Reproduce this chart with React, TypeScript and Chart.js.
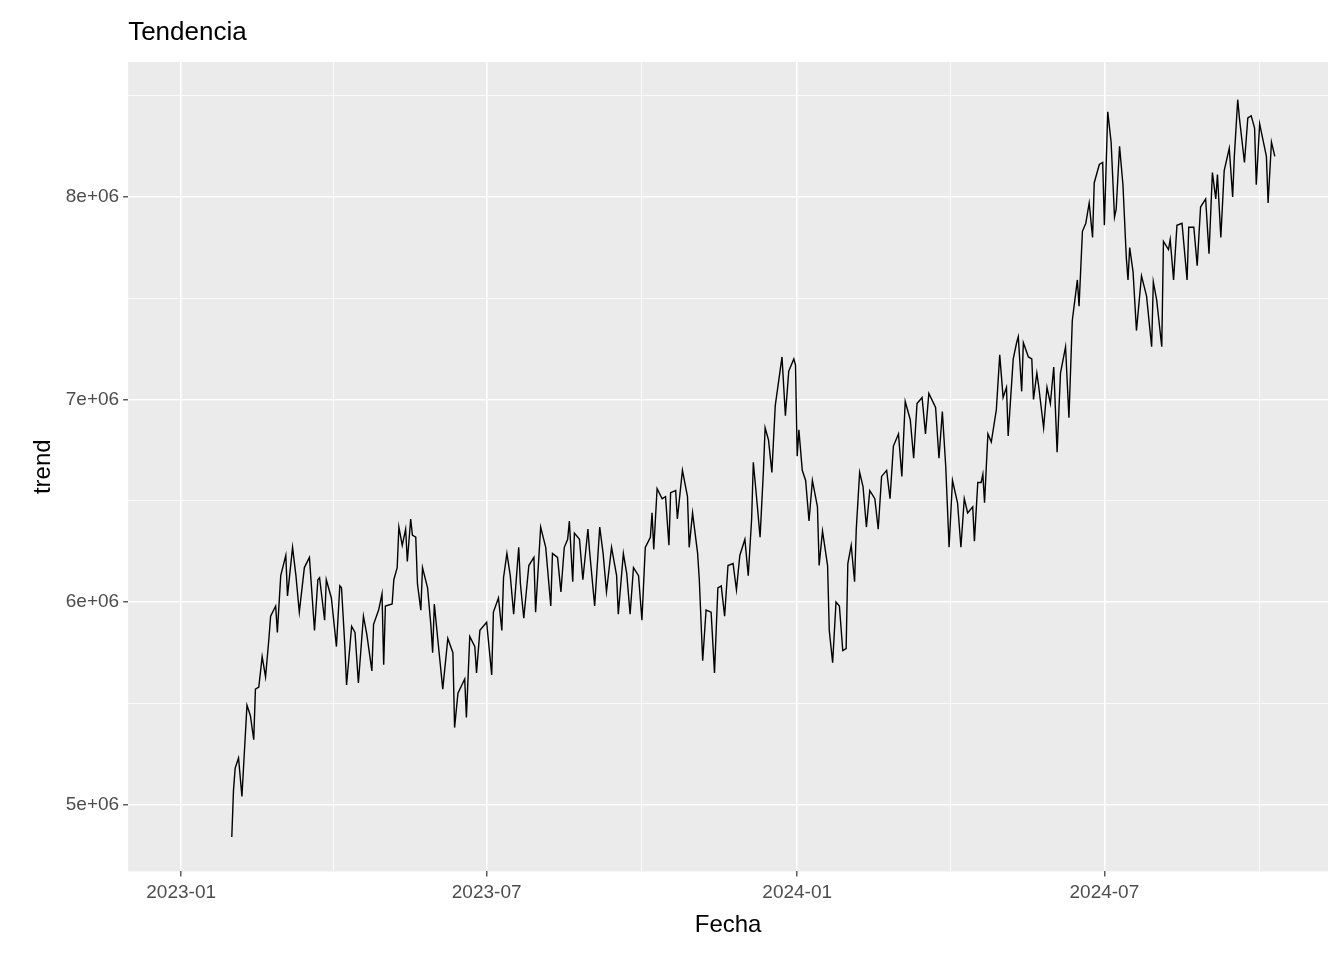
import { useEffect, useRef } from 'react';
import { Chart, registerables } from 'chart.js';

Chart.register(...registerables);

// days since 2023-01-01
const days = [
  30, 31, 32, 34, 36, 37, 39, 41, 43, 44, 46, 48, 50, 52, 53, 56, 57, 59, 62, 63, 66, 68, 70, 73, 76, 79, 81, 82, 85, 86,
  89, 92, 94, 95, 97, 98, 101, 103, 105, 108, 110, 113, 114, 117, 119, 120, 121, 125, 126, 128, 129, 131, 133, 134, 136, 137, 139, 140, 142, 143,
  146, 148, 149, 150, 152, 155, 158, 161, 162, 164, 168, 169, 171, 174, 175, 177,
  181, 184, 185, 188, 190, 191, 193, 195, 197, 200, 201, 203, 206, 209, 210, 213, 216, 219, 220, 223, 225, 227, 229, 230, 232, 233, 236, 238, 241, 242,
  245, 248, 250, 252, 255, 258, 259, 262, 264, 266, 268, 271, 273, 275, 278, 279, 280, 282, 285, 287, 289, 290, 293, 294, 297, 300, 301, 303, 306, 307,
  309, 311, 314, 316, 318, 320, 322, 324, 327, 329, 331,
  334, 336, 338, 339, 341, 343, 345, 346, 348, 350, 352, 355, 356, 358, 360, 363, 364, 365, 366, 368, 370, 372, 374, 377, 378, 380, 383, 384, 386, 388,
  390, 392, 394, 395, 397, 399, 400, 402, 404, 406, 408, 411, 413, 415, 418, 420, 422, 425, 427, 429, 432, 434, 436, 439, 441, 443, 447, 449, 451, 453,
  455, 457, 460, 462, 464, 466, 469, 470, 472, 474, 475, 476, 478, 480, 483, 485, 487, 489, 490, 493, 495,
  496, 498, 499, 502, 504, 505, 507, 508, 511, 513, 515, 517, 519, 521, 524, 526, 528, 531, 532, 534, 536, 538, 540, 541, 544, 546, 547, 549, 551, 553,
  554, 556, 558, 560, 561, 562, 564, 566, 569, 572, 575, 576, 578, 581, 582, 585, 586, 588, 590, 593, 596, 597, 600, 602, 604, 607, 609, 611, 613, 614,
  616, 618, 621, 623, 624, 626, 627, 630, 632, 634, 636, 637, 639, 641, 643, 644, 646, 648,
];

// trend, millions
const trend = [
  4.84, 5.07, 5.18, 5.23, 5.04, 5.19, 5.49, 5.44, 5.32, 5.57, 5.58, 5.73, 5.63, 5.82, 5.93, 5.98, 5.85, 6.13, 6.23, 6.03, 6.27, 6.13, 5.95, 6.17, 6.22, 5.86, 6.11, 6.12, 5.91, 6.11,
  6.02, 5.78, 6.08, 6.07, 5.78, 5.59, 5.88, 5.85, 5.60, 5.93, 5.84, 5.66, 5.89, 5.96, 6.04, 5.69, 5.98, 5.99, 6.11, 6.17, 6.37, 6.28, 6.36, 6.20, 6.41, 6.33, 6.32, 6.09, 5.96, 6.17,
  6.07, 5.88, 5.75, 5.99, 5.82, 5.57, 5.82, 5.75, 5.38, 5.55, 5.62, 5.43, 5.83, 5.78, 5.65, 5.86,
  5.90, 5.64, 5.95, 6.02, 5.86, 6.12, 6.24, 6.13, 5.94, 6.27, 6.09, 5.92, 6.18, 6.22, 5.95, 6.37, 6.27, 5.98, 6.24, 6.22, 6.05, 6.27, 6.31, 6.40, 6.10, 6.34, 6.31, 6.11, 6.36, 6.25,
  5.98, 6.37, 6.24, 6.05, 6.27, 6.13, 5.94, 6.24, 6.14, 5.94, 6.17, 6.13, 5.91, 6.27, 6.32, 6.44, 6.26, 6.56, 6.51, 6.52, 6.28, 6.54, 6.55, 6.41, 6.65, 6.52, 6.27, 6.44, 6.24, 6.11,
  5.71, 5.96, 5.95, 5.65, 6.07, 6.08, 5.93, 6.18, 6.19, 6.06, 6.23,
  6.31, 6.13, 6.41, 6.69, 6.51, 6.32, 6.65, 6.86, 6.80, 6.64, 6.97, 7.15, 7.21, 6.92, 7.14, 7.20, 7.17, 6.72, 6.85, 6.65, 6.60, 6.40, 6.60, 6.47, 6.18, 6.35, 6.18, 5.86, 5.70, 6.00,
  5.98, 5.76, 5.77, 6.19, 6.28, 6.10, 6.36, 6.64, 6.57, 6.37, 6.55, 6.51, 6.36, 6.62, 6.65, 6.51, 6.77, 6.83, 6.62, 6.99, 6.90, 6.71, 6.98, 7.01, 6.83, 7.03, 6.96, 6.71, 6.94, 6.67,
  6.27, 6.60, 6.49, 6.27, 6.51, 6.44, 6.47, 6.30, 6.59, 6.59, 6.63, 6.49, 6.83, 6.79, 6.95, 7.22, 7.01, 7.06, 6.82, 7.20, 7.28,
  7.31, 7.04, 7.28, 7.21, 7.20, 7.00, 7.13, 7.07, 6.86, 7.06, 6.98, 7.16, 6.74, 7.13, 7.26, 6.91, 7.39, 7.59, 7.46, 7.83, 7.87, 7.97, 7.80, 8.07, 8.16, 8.17, 7.86, 8.42, 8.27, 7.90,
  7.94, 8.25, 8.06, 7.70, 7.59, 7.75, 7.63, 7.34, 7.61, 7.51, 7.26, 7.58, 7.49, 7.26, 7.78, 7.74, 7.79, 7.59, 7.86, 7.87, 7.59, 7.85, 7.85, 7.66, 7.95, 7.99, 7.72, 8.12, 7.99, 8.11,
  7.80, 8.13, 8.24, 8.00, 8.20, 8.48, 8.39, 8.17, 8.39, 8.40, 8.34, 8.06, 8.36, 8.28, 8.20, 7.97, 8.27, 8.20,
];

const xTicks = [0, 90, 181, 273, 365, 456, 547, 639];
const xLabels: Record<number, string> = { 0: '2023-01', 181: '2023-07', 365: '2024-01', 547: '2024-07' };
const yTicks = [5e6, 5.5e6, 6e6, 6.5e6, 7e6, 7.5e6, 8e6, 8.5e6];

const FONT = '"Liberation Sans", Arial, sans-serif';

const panelBg = {
  id: 'panelBg',
  beforeDraw(chart: Chart) {
    const { ctx, chartArea: a } = chart;
    ctx.save();
    ctx.fillStyle = '#EBEBEB';
    ctx.fillRect(a.left, a.top, a.right - a.left, a.bottom - a.top);
    ctx.restore();
  },
  afterDraw(chart: Chart) {
    const { ctx, chartArea: a } = chart;
    ctx.save();
    ctx.fillStyle = '#000';
    ctx.font = `26px ${FONT}`;
    ctx.textBaseline = 'alphabetic';
    ctx.fillText('Tendencia', a.left, 40);
    ctx.restore();
  },
};

export default function App() {
  const chartRef = useRef<HTMLCanvasElement>(null);
  const chartInstance = useRef<Chart | null>(null);

  useEffect(() => {
    if (!chartRef.current) return;
    if (chartInstance.current) chartInstance.current.destroy();
    const ctx = chartRef.current.getContext('2d');
    if (!ctx) return;

    const isMajorX = (v: number) => v in xLabels;
    const isMajorY = (v: number) => v % 1e6 === 0;

    chartInstance.current = new Chart(ctx, {
      type: 'line',
      data: {
        datasets: [{
          data: days.map((d, i) => ({ x: d, y: trend[i] * 1e6 })),
          borderColor: '#000',
          borderWidth: 1.4,
          pointRadius: 0,
          tension: 0,
        }],
      },
      options: {
        responsive: true,
        maintainAspectRatio: false,
        animation: false,
        layout: { padding: { top: 62, right: 16, left: 25, bottom: 16 } },
        plugins: { legend: { display: false }, tooltip: { enabled: false } },
        scales: {
          x: {
            type: 'linear',
            min: -31.4,
            max: 679.5,
            afterBuildTicks: (axis) => { axis.ticks = xTicks.map(v => ({ value: v })); },
            ticks: {
              autoSkip: false,
              maxRotation: 0,
              color: '#4D4D4D',
              font: { family: FONT, size: 19 },
              padding: 5,
              callback: (v) => xLabels[Number(v)] ?? '',
            },
            grid: {
              color: '#FFFFFF',
              lineWidth: (c) => (isMajorX(c.tick?.value) ? 1.6 : 0.8),
              tickColor: (c) => (isMajorX(c.tick?.value) ? '#333333' : 'rgba(0,0,0,0)'),
              tickLength: 5,
              tickWidth: 1.2,
            },
            border: { display: false },
            title: { display: true, text: 'Fecha', color: '#000', font: { family: FONT, size: 24 }, padding: { top: 2 } },
          },
          y: {
            type: 'linear',
            min: 4.67e6,
            max: 8.666e6,
            afterBuildTicks: (axis) => { axis.ticks = yTicks.map(v => ({ value: v })); },
            ticks: {
              autoSkip: false,
              color: '#4D4D4D',
              font: { family: FONT, size: 19 },
              padding: 4,
              callback: (v) => (isMajorY(Number(v)) ? `${Number(v) / 1e6}e+06` : ''),
            },
            grid: {
              color: '#FFFFFF',
              lineWidth: (c) => (isMajorY(c.tick?.value) ? 1.6 : 0.8),
              tickColor: (c) => (isMajorY(c.tick?.value) ? '#333333' : 'rgba(0,0,0,0)'),
              tickLength: 5,
              tickWidth: 1.2,
            },
            border: { display: false },
            title: { display: true, text: 'trend', color: '#000', font: { family: FONT, size: 24 }, padding: { bottom: 4 } },
          },
        },
      },
      plugins: [panelBg],
    });

    return () => {
      if (chartInstance.current) {
        chartInstance.current.destroy();
        chartInstance.current = null;
      }
    };
  }, []);

  return (
    <div style={{ position: 'fixed', left: 0, top: 0, width: 1344, height: 960, background: '#fff' }}>
      <canvas ref={chartRef} />
    </div>
  );
}
